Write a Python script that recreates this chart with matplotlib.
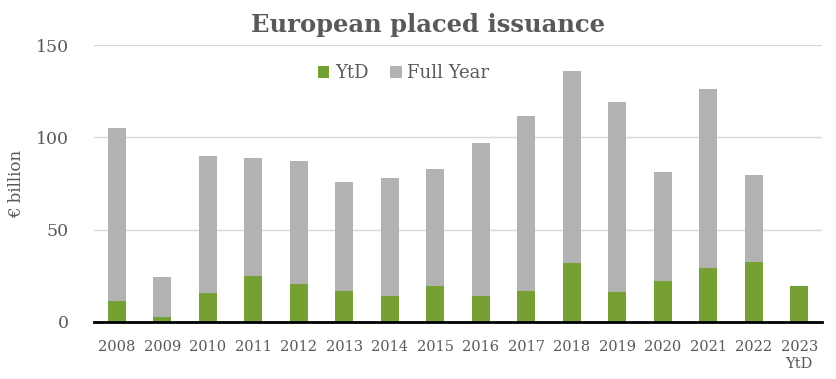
import matplotlib

matplotlib.use("Agg")
import matplotlib.pyplot as plt  # noqa: E402
import numpy as np  # noqa: E402

years = ["2008", "2009", "2010", "2011", "2012", "2013", "2014", "2015",
         "2016", "2017", "2018", "2019", "2020", "2021", "2022", "2023\nYtD"]
full_year = [105, 24.5, 90, 89, 87, 76, 78, 83, 97, 111.5, 136, 119, 81, 126, 79.5, np.nan]
ytd = [11.5, 2.7, 15.5, 25, 20.7, 16.6, 14, 19.7, 14, 17, 31.8, 16.2, 22, 29.4, 32.3, 19.7]

GREEN = "#77A032"
GREY = "#B2B2B2"
TEXT = "#595959"

plt.rcParams["font.family"] = ["DejaVu Serif"]

fig = plt.figure(figsize=(8.36, 3.79), dpi=100)
ax = fig.add_axes([94 / 836, 57 / 379, 728 / 836, 277 / 379])

x = np.arange(len(years))
ax.bar(x, full_year, width=0.4, color=GREY, label="Full Year", zorder=2)
ax.bar(x, ytd, width=0.4, color=GREEN, label="YtD", zorder=3)

ax.set_xlim(-0.5, len(years) - 0.5)
ax.set_ylim(0, 150)
ax.set_yticks([0, 50, 100, 150])
ax.grid(axis="y", color="#D9D9D9", linewidth=1, zorder=0)
ax.set_axisbelow(True)
for s in ["left", "right", "top"]:
    ax.spines[s].set_visible(False)
ax.spines["bottom"].set_color("black")
ax.spines["bottom"].set_linewidth(2)
ax.spines["bottom"].set_zorder(4)

ax.set_xticks(x)
ax.set_xticklabels(years, fontsize=10.5, color=TEXT, linespacing=1.3)
ax.tick_params(axis="x", length=0, pad=13)
ax.tick_params(axis="y", length=0, labelsize=12.5, labelcolor=TEXT, pad=18)
for lab in ax.get_xticklabels():
    lab.set_horizontalalignment("center")

ax.set_ylabel("€ billion", fontsize=12, color=TEXT, labelpad=8)

handles, labels = ax.get_legend_handles_labels()
leg = ax.legend(handles[::-1], labels[::-1], loc="upper center", bbox_to_anchor=(0.425, 0.99),
                ncol=2, frameon=False, fontsize=13, handlelength=0.65, handleheight=0.65,
                handletextpad=0.3, columnspacing=1.2)
for t in leg.get_texts():
    t.set_color(TEXT)

fig.text(428 / 836, 1 - 25 / 379, "European placed issuance", ha="center", va="center",
         fontsize=17.5, fontweight="bold", color=TEXT)

fig.savefig("out.png", dpi=100)
